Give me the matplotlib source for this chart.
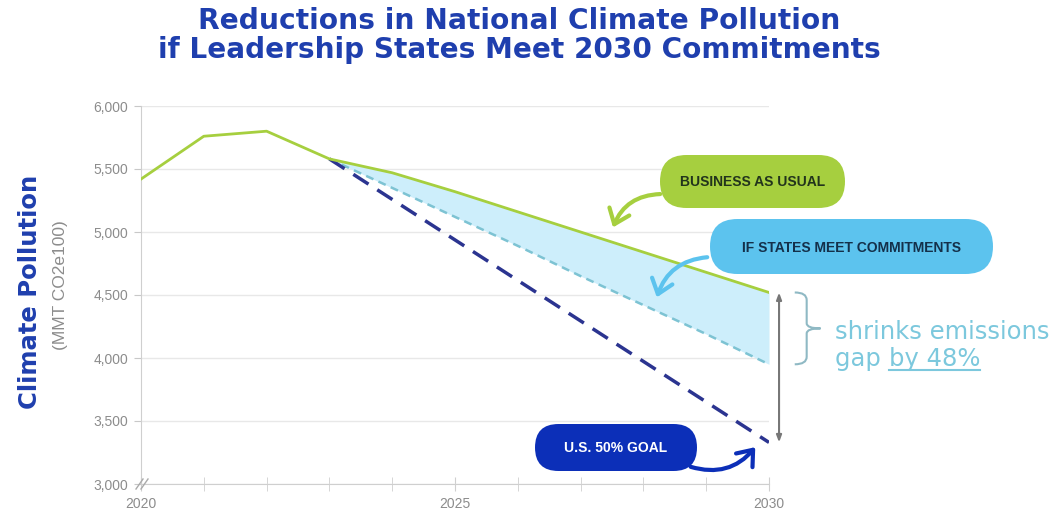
import matplotlib.pyplot as plt
from matplotlib.patches import FancyBboxPatch, FancyArrowPatch, PathPatch
from matplotlib.path import Path
from matplotlib.transforms import Affine2D
from matplotlib.lines import Line2D

# emissions, MMT CO2e100
years = [2020, 2021, 2022, 2023, 2024, 2025, 2026, 2027, 2028, 2029, 2030]
business_as_usual = [5420, 5760, 5800, 5580, 5470, 5320, 5160, 5000, 4840, 4680, 4520]
commit_years = [2023, 2024, 2025, 2026, 2027, 2028, 2029, 2030]
states_commitments = [5580, 5350, 5120, 4890, 4650, 4420, 4190, 3950]
goal_years = [2023, 2030]
us_goal = [5580, 3330]

y_ticks = [3000, 3500, 4000, 4500, 5000, 5500, 6000]
x_labels = [2020, 2025, 2030]

W, H = 1054, 512
green = '#a6cf3f'
sky = '#5cc3ee'
navy = '#0c2fb8'
title_blue = '#1f3fae'
grey = '#8c8c8c'
gap_color = '#7cc8dd'

fig = plt.figure(figsize=(W / 100, H / 100), dpi=100)
# pixel coordinates measured from the top-left corner
px = Affine2D().scale(1, -1).translate(0, H)


def fit_width(t, width, vertical=False):
    # scale the font so the text spans the given number of pixels
    fig.canvas.draw()
    bb = t.get_window_extent()
    w = bb.height if vertical else bb.width
    t.set_fontsize(t.get_fontsize() * width / w)


ax = fig.add_axes([141 / W, 1 - 484 / H, (769 - 141) / W, (484 - 106) / H])
ax.set_xlim(2020, 2030)
ax.set_ylim(3000, 6000)

ax.fill_between(commit_years, business_as_usual[3:], states_commitments,
                color='#cdeefb', lw=0, zorder=1)
ax.plot(years, business_as_usual, color=green, lw=2, zorder=4)
ax.plot(commit_years, states_commitments, color='#7dc3d3', lw=1.8,
        dashes=(3.2, 2.2), zorder=3)
ax.plot(goal_years, us_goal, color='#2b3490', lw=2.5, dashes=(5.2, 3.0), zorder=3)

ax.set_yticks(y_ticks)
ax.set_yticklabels([f'{v:,}' for v in y_ticks])
ax.set_xticks(x_labels)
ax.set_xticks(years, minor=True)
ax.grid(axis='y', color='#e8e8e8', lw=1)
ax.set_axisbelow(True)
for s in ['top', 'right']:
    ax.spines[s].set_visible(False)
for s in ['left', 'bottom']:
    ax.spines[s].set_color('#cfcfcf')
ax.tick_params(axis='y', colors='#c8c8c8', labelcolor=grey, length=5,
               labelsize=10, pad=4)
ax.tick_params(axis='x', which='both', direction='inout', colors='#cfcfcf',
               labelcolor=grey, length=10, labelsize=10, pad=4)
for lab in ax.get_xticklabels() + ax.get_yticklabels():
    lab.set_family('Liberation Sans')

# axis break marks at the origin
for dx in (0, 5):
    fig.add_artist(Line2D([136 + dx, 143 + dx], [489, 479], transform=px,
                          color='#aaaaaa', lw=1))

# gap arrow between business as usual and the goal
ax.annotate('', xy=(2030.16, us_goal[-1]), xytext=(2030.16, business_as_usual[-1]),
            annotation_clip=False,
            arrowprops=dict(arrowstyle='<|-|>,head_length=0.4,head_width=0.15',
                            color='#777777', lw=1.5, shrinkA=0, shrinkB=0))

# curly brace over the gap closed by the states
x0, x1, xm = 2030.41, 2030.82, 2030.6
top, bot = business_as_usual[-1], states_commitments[-1]
mid = (top + bot) / 2
verts = [(x0, top), (xm, top), (xm, top - 60), (xm, mid + 40), (xm, mid), (x1, mid),
         (xm, mid), (xm, mid - 40), (xm, bot + 60), (xm, bot), (x0, bot)]
codes = [Path.MOVETO, Path.CURVE3, Path.CURVE3, Path.LINETO, Path.CURVE3, Path.CURVE3,
         Path.CURVE3, Path.CURVE3, Path.LINETO, Path.CURVE3, Path.CURVE3]
ax.add_patch(PathPatch(Path(verts, codes), fill=False, ec='#8fb9c4', lw=1.5,
                       clip_on=False))

gap_kw = dict(color=gap_color, fontsize=16, family='DejaVu Sans', va='baseline')
t1 = fig.text(835, 339, 'shrinks emissions', transform=px, **gap_kw)
fit_width(t1, 215)
gap_kw['fontsize'] = t1.get_fontsize()
t_gap = fig.text(835, 366, 'gap ', transform=px, **gap_kw)
fig.canvas.draw()
bb = t_gap.get_window_extent()
t_pct = fig.text(bb.x1, H - 366, 'by 48%', transform=None, **gap_kw)
fig.canvas.draw()
bb2 = t_pct.get_window_extent()
fig.add_artist(Line2D([bb2.x0, bb2.x1], [bb2.y0 + 1, bb2.y0 + 1], transform=None,
                      color=gap_color, lw=1.5))


# callout pills
def pill(x0, y0, x1, y1, color, text, tcolor):
    r = (y1 - y0) / 2
    fig.add_artist(FancyBboxPatch((x0, y0), x1 - x0, y1 - y0,
                                  boxstyle=f'round,pad=0,rounding_size={r}',
                                  transform=px, fc=color, ec='none'))
    fig.text((x0 + x1) / 2, (y0 + y1) / 2 + 1, text, transform=px, ha='center',
             va='center', color=tcolor, fontsize=10, fontweight='bold',
             family='Liberation Sans')


def curved(a, b, color, rad):
    fig.add_artist(FancyArrowPatch(a, b, transform=px, color=color, lw=3,
                                   arrowstyle='->,head_length=0.45,head_width=0.35',
                                   mutation_scale=22, capstyle='round',
                                   connectionstyle=f'arc3,rad={rad}'))


pill(660, 155, 845, 208, green, 'BUSINESS AS USUAL', '#22341c')
pill(710, 219, 993, 274, sky, 'IF STATES MEET COMMITMENTS', '#14304a')
pill(535, 424, 697, 471, navy, 'U.S. 50% GOAL', 'white')
curved((663, 194), (612, 230), green, 0.35)
curved((710, 257), (656, 300), sky, 0.35)
curved((688, 466), (757, 445), navy, 0.35)

title_kw = dict(transform=px, ha='center', va='baseline', fontsize=21,
                fontweight='bold', color=title_blue, family='DejaVu Sans')
t = fig.text(519, 29, 'Reductions in National Climate Pollution', **title_kw)
fit_width(t, 642)
t = fig.text(519, 58, 'if Leadership States Meet 2030 Commitments', **title_kw)
fit_width(t, 720)

t = fig.text(30, 292, 'Climate Pollution', transform=px, rotation=90, ha='center',
             va='center', fontsize=17, fontweight='bold', color=title_blue,
             family='DejaVu Sans')
fit_width(t, 235, vertical=True)
fig.text(60, 285, '(MMT CO2e100)', transform=px, rotation=90, ha='center',
         va='center', fontsize=12.5, color=grey, family='Liberation Sans')

fig.savefig('out.png', dpi=100)
